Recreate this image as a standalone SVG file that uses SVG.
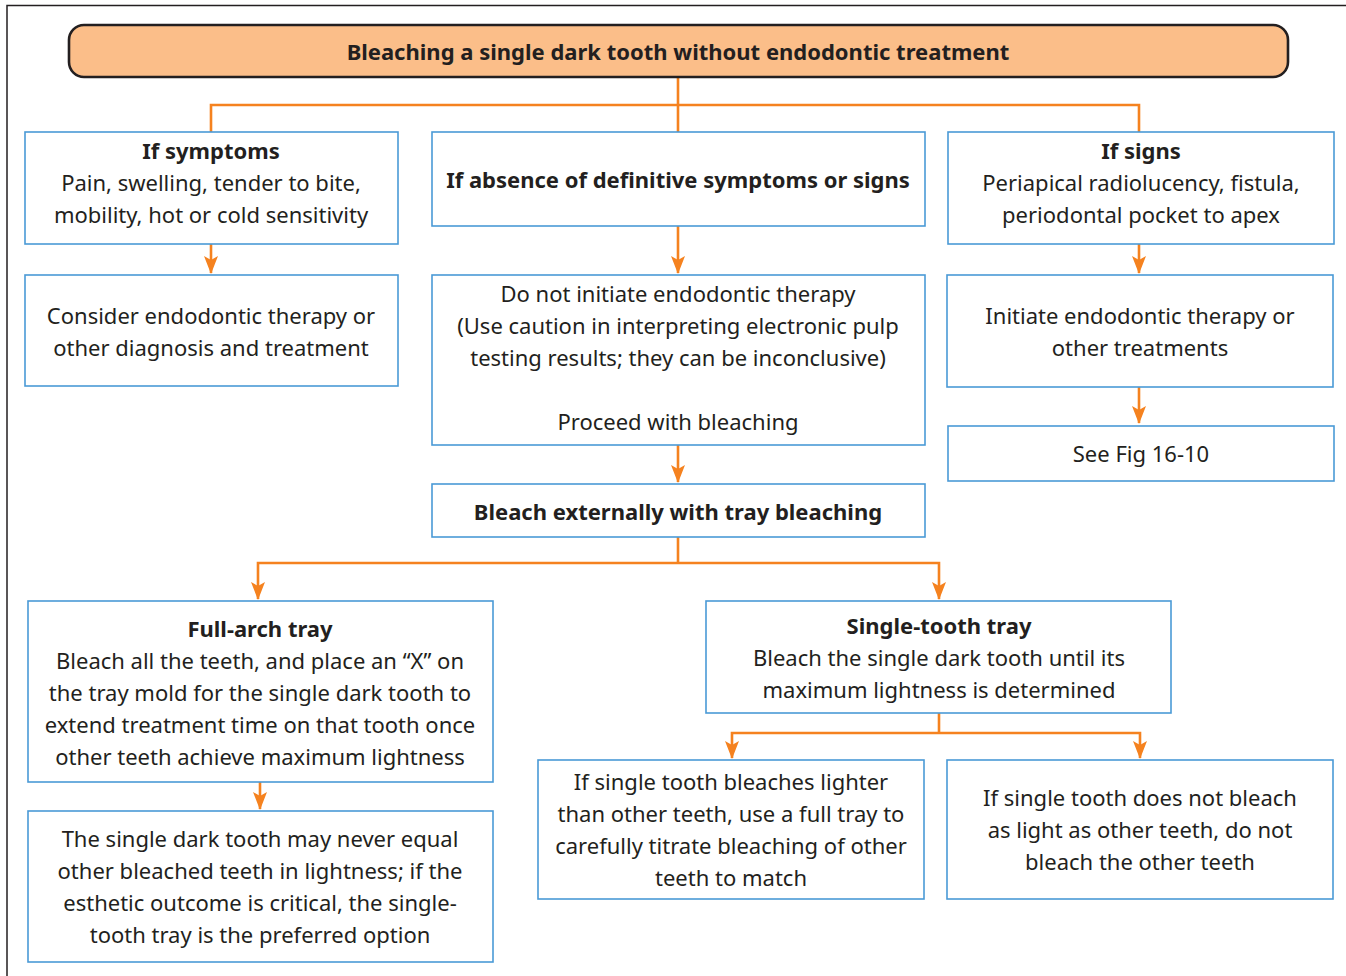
<svg xmlns="http://www.w3.org/2000/svg" width="1346" height="976" viewBox="0 0 1346 976">
  <defs>
    <marker id="arrow" markerUnits="userSpaceOnUse" markerWidth="18" markerHeight="14" viewBox="0 0 18 14" refX="17" refY="7" orient="auto-start-reverse">
      <path d="M0,0 L4,7 L0,14 L18,7 Z" fill="#f5821f"/>
    </marker>
    <style>
      .frame { fill: none; stroke: #231f20; stroke-width: 1.5; }
      .box { fill: #ffffff; stroke: #4a9ad6; stroke-width: 1.6; }
      .title { fill: #fbbe89; stroke: #231f20; stroke-width: 2.6; }
      .link { fill: none; stroke: #f5821f; stroke-width: 2.6; }
      text { font-family: "Noto Sans", "Open Sans", "Liberation Sans", sans-serif; font-size: 22px; fill: #231f20; text-anchor: middle; }
      .b { font-weight: bold; }
    </style>
  </defs>
  <rect width="1346" height="976" fill="#ffffff"/>
  <path class="frame" d="M7,976 V5.5 H1346"/>

  <g id="connectors">
    <path class="link" d="M678,77 V105 M211,132 V105 H1139 V132 M678,105 V132"/>
    <path class="link" d="M211,244 V273" marker-end="url(#arrow)"/>
    <path class="link" d="M678,226 V273" marker-end="url(#arrow)"/>
    <path class="link" d="M1139,244 V273" marker-end="url(#arrow)"/>
    <path class="link" d="M1139,387 V423" marker-end="url(#arrow)"/>
    <path class="link" d="M678,445 V482" marker-end="url(#arrow)"/>
    <path class="link" d="M678,537 V563"/>
    <path class="link" d="M258,599 V563 H939 V599" marker-start="url(#arrow)" marker-end="url(#arrow)"/>
    <path class="link" d="M260,782 V809" marker-end="url(#arrow)"/>
    <path class="link" d="M939,713 V733"/>
    <path class="link" d="M732,758 V733 H1140 V758" marker-start="url(#arrow)" marker-end="url(#arrow)"/>
  </g>

  <g id="title">
    <rect class="title" x="69" y="25" width="1219" height="52" rx="15"/>
    <text class="b" x="678" y="60">Bleaching a single dark tooth without endodontic treatment</text>
  </g>

  <g id="if-symptoms">
    <rect class="box" x="25" y="132" width="373" height="112"/>
    <text class="b" x="211" y="159">If symptoms</text>
    <text x="211" y="191">Pain, swelling, tender to bite,</text>
    <text x="211" y="223">mobility, hot or cold sensitivity</text>
  </g>

  <g id="if-absence">
    <rect class="box" x="432" y="132" width="493" height="94"/>
    <text class="b" x="678" y="188">If absence of definitive symptoms or signs</text>
  </g>

  <g id="if-signs">
    <rect class="box" x="948" y="132" width="386" height="112"/>
    <text class="b" x="1141" y="159">If signs</text>
    <text x="1141" y="191">Periapical radiolucency, fistula,</text>
    <text x="1141" y="223">periodontal pocket to apex</text>
  </g>

  <g id="consider-endo">
    <rect class="box" x="25" y="275" width="373" height="111"/>
    <text x="211" y="324">Consider endodontic therapy or</text>
    <text x="211" y="356">other diagnosis and treatment</text>
  </g>

  <g id="do-not-initiate">
    <rect class="box" x="432" y="275" width="493" height="170"/>
    <text x="678" y="302">Do not initiate endodontic therapy</text>
    <text x="678" y="334">(Use caution in interpreting electronic pulp</text>
    <text x="678" y="366">testing results; they can be inconclusive)</text>
    <text x="678" y="430">Proceed with bleaching</text>
  </g>

  <g id="initiate-endo">
    <rect class="box" x="947" y="275" width="386" height="112"/>
    <text x="1140" y="324">Initiate endodontic therapy or</text>
    <text x="1140" y="356">other treatments</text>
  </g>

  <g id="see-fig">
    <rect class="box" x="948" y="426" width="386" height="55"/>
    <text x="1141" y="462">See Fig 16-10</text>
  </g>

  <g id="bleach-externally">
    <rect class="box" x="432" y="484" width="493" height="53"/>
    <text class="b" x="678" y="520">Bleach externally with tray bleaching</text>
  </g>

  <g id="full-arch">
    <rect class="box" x="28" y="601" width="465" height="181"/>
    <text class="b" x="260" y="637">Full-arch tray</text>
    <text x="260" y="669">Bleach all the teeth, and place an “X” on</text>
    <text x="260" y="701">the tray mold for the single dark tooth to</text>
    <text x="260" y="733">extend treatment time on that tooth once</text>
    <text x="260" y="765">other teeth achieve maximum lightness</text>
  </g>

  <g id="never-equal">
    <rect class="box" x="28" y="811" width="465" height="151"/>
    <text x="260" y="847">The single dark tooth may never equal</text>
    <text x="260" y="879">other bleached teeth in lightness; if the</text>
    <text x="260" y="911">esthetic outcome is critical, the single-</text>
    <text x="260" y="943">tooth tray is the preferred option</text>
  </g>

  <g id="single-tooth">
    <rect class="box" x="706" y="601" width="465" height="112"/>
    <text class="b" x="939" y="634">Single-tooth tray</text>
    <text x="939" y="666">Bleach the single dark tooth until its</text>
    <text x="939" y="698">maximum lightness is determined</text>
  </g>

  <g id="bleaches-lighter">
    <rect class="box" x="538" y="760" width="386" height="139"/>
    <text x="731" y="790">If single tooth bleaches lighter</text>
    <text x="731" y="822">than other teeth, use a full tray to</text>
    <text x="731" y="854">carefully titrate bleaching of other</text>
    <text x="731" y="886">teeth to match</text>
  </g>

  <g id="not-as-light">
    <rect class="box" x="947" y="760" width="386" height="139"/>
    <text x="1140" y="806">If single tooth does not bleach</text>
    <text x="1140" y="838">as light as other teeth, do not</text>
    <text x="1140" y="870">bleach the other teeth</text>
  </g>
</svg>
